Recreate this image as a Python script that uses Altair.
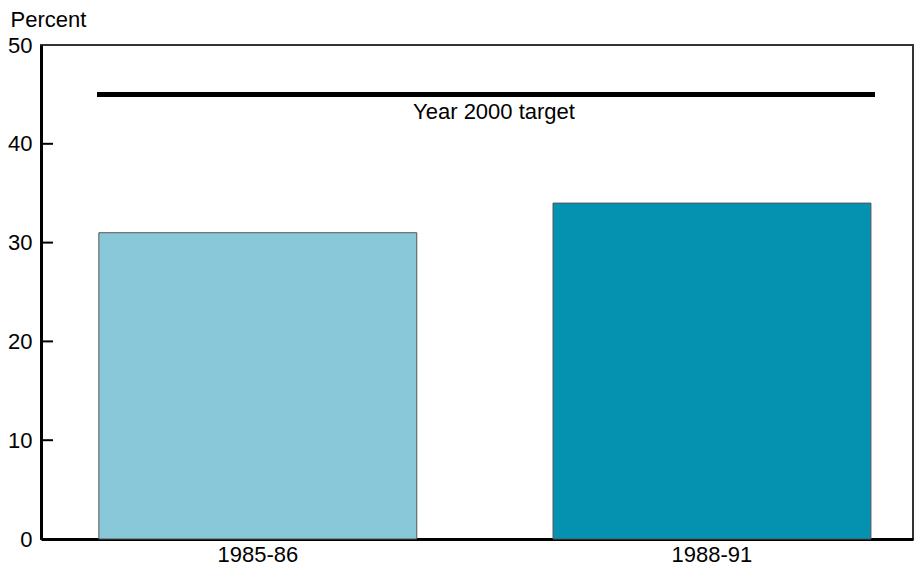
import altair as alt
import pandas as pd

periods = ["1985-86", "1988-91"]
values = [31, 34]
bar_colors = ["#89C8D8", "#0592B0"]
target_value = [45]
target_label = ["Year 2000 target"]
y_ticks = [0, 10, 20, 30, 40, 50]
inner_ticks = [10, 20, 30, 40]

bars_df = pd.DataFrame({"period": periods, "value": values, "color": bar_colors})
target_df = pd.DataFrame({"value": target_value, "label": target_label})
ticks_df = pd.DataFrame({"value": inner_ticks})

FONT = "Liberation Sans"

x_scale = alt.Scale(domain=periods, paddingInner=0.3, paddingOuter=0.11, align=0.579)
y_scale = alt.Scale(domain=[0, 50], nice=False)

bars = alt.Chart(bars_df).mark_bar(stroke="#555555", strokeWidth=1).encode(
    x=alt.X("period:N", scale=x_scale, sort=periods,
            axis=alt.Axis(title=None, labelAngle=0, ticks=False, labelPadding=5,
                          labelFont=FONT, labelFontSize=22, labelColor="black",
                          domainColor="black", domainWidth=3)),
    y=alt.Y("value:Q", scale=y_scale,
            axis=alt.Axis(values=y_ticks, title="Percent", titleAngle=0,
                          titleAlign="left", titleBaseline="top",
                          titleX=-31, titleY=-36, titleFont=FONT, titleFontSize=22,
                          titleFontWeight="normal", titleColor="black",
                          ticks=False, labelPadding=9, labelFont=FONT,
                          labelFontSize=22, labelColor="black", grid=False,
                          domainColor="black", domainWidth=3)),
    color=alt.Color("color:N", scale=None),
)

tick_rules = alt.Chart(ticks_df).mark_rule(color="black", strokeWidth=2).encode(
    y=alt.Y("value:Q", scale=y_scale),
    x=alt.value(0),
    x2=alt.value(12),
)

target_rule = alt.Chart(target_df).mark_rule(color="black", strokeWidth=5).encode(
    y=alt.Y("value:Q", scale=y_scale),
    x=alt.value(56),
    x2=alt.value(834),
)

target_text = alt.Chart(target_df).mark_text(
    font=FONT, fontSize=22, color="black", align="center", baseline="alphabetic", dy=25
).encode(
    y=alt.Y("value:Q", scale=y_scale),
    x=alt.value(453),
    text="label:N",
)

chart = alt.layer(bars, tick_rules, target_rule, target_text).properties(
    width=872,
    height=494,
    autosize=alt.AutoSizeParams(type="none"),
    padding={"left": 33, "top": 37, "right": 1, "bottom": 29},
).configure(
    background="white",
    view=alt.ViewConfig(stroke="#333333", strokeWidth=2),
)

chart.save("out.html", embed_options={"renderer": "svg", "actions": False})
